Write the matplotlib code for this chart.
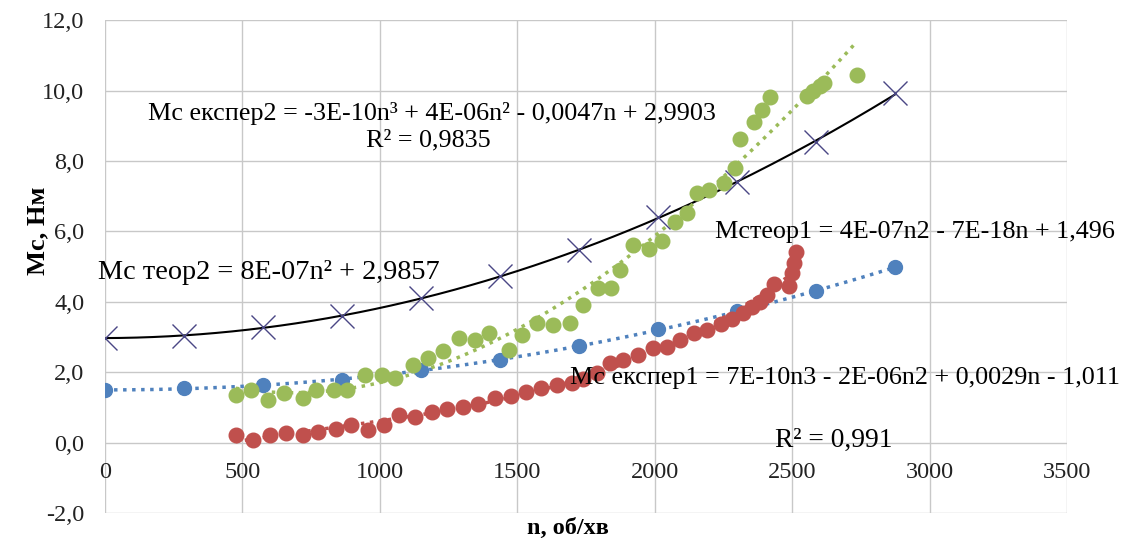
import numpy as np
import matplotlib.pyplot as plt

# теоретичні точки (однакові оберти для обох моделей)
n_teor = [0, 287.5, 575, 862.5, 1150, 1437.5, 1725, 2012.5, 2300, 2587.5, 2875]
m_teor1 = [1.49, 1.55, 1.63, 1.78, 2.06, 2.34, 2.74, 3.22, 3.74, 4.30, 4.98]
m_teor2 = [2.97, 3.03, 3.28, 3.59, 4.10, 4.73, 5.47, 6.41, 7.40, 8.53, 9.93]

# експеримент 1 (червоні)
n_exp1 = [476, 538, 601, 657, 720, 776, 839, 895, 958, 1014, 1070, 1126, 1189,
          1245, 1301, 1357, 1420, 1476, 1531, 1587, 1643, 1699, 1740, 1789, 1837,
          1886, 1940, 1995, 2043, 2092, 2141, 2190, 2240, 2280, 2320, 2355, 2383,
          2409, 2434, 2487, 2500, 2507, 2513]
m_exp1 = [0.21, 0.07, 0.21, 0.26, 0.21, 0.30, 0.40, 0.50, 0.35, 0.50, 0.78, 0.73, 0.88,
          0.95, 1.02, 1.11, 1.26, 1.33, 1.45, 1.54, 1.64, 1.70, 1.80, 1.97, 2.25,
          2.34, 2.49, 2.68, 2.72, 2.91, 3.10, 3.20, 3.38, 3.52, 3.68, 3.85, 3.99,
          4.20, 4.50, 4.45, 4.81, 5.11, 5.42]

# експеримент 2 (зелені)
n_exp2 = [476, 531, 594, 650, 720, 769, 832, 881, 944, 1007, 1056, 1119, 1175,
          1231, 1287, 1345, 1397, 1470, 1517, 1572, 1628, 1690, 1738, 1792, 1840,
          1875, 1921, 1978, 2027, 2075, 2117, 2154, 2196, 2251, 2293, 2311, 2360,
          2390, 2420, 2553, 2577, 2602, 2614, 2735]
m_exp2 = [1.35, 1.50, 1.21, 1.40, 1.26, 1.50, 1.50, 1.50, 1.92, 1.92, 1.83, 2.21, 2.40,
          2.59, 2.97, 2.92, 3.11, 2.64, 3.06, 3.40, 3.35, 3.40, 3.92, 4.38, 4.40,
          4.91, 5.60, 5.49, 5.73, 6.26, 6.53, 7.08, 7.18, 7.37, 7.81, 8.63, 9.11,
          9.45, 9.82, 9.84, 9.98, 10.13, 10.22, 10.43]

x_ticks = [0, 500, 1000, 1500, 2000, 2500, 3000, 3500]
y_ticks = [-2, 0, 2, 4, 6, 8, 10, 12]

c_blue = '#4F81BD'
c_red = '#C0504D'
c_green = '#9BBB59'
c_cross = '#4A4785'

plt.rcParams['font.family'] = ['Liberation Serif', 'DejaVu Serif']

fig = plt.figure(figsize=(11.28, 5.44), dpi=100)
ax = fig.add_axes([0.0931, 0.057, 0.8529, 0.906])


def trend(n, m, deg):
    n = np.asarray(n, float)
    p = np.polyfit(n, np.asarray(m, float), deg)
    xs = np.linspace(n.min(), n.max(), 200)
    return xs, np.polyval(p, xs)


# лінії трендів
xs, ys = trend(n_teor, m_teor2, 2)
ax.plot(xs, ys, color='black', lw=1.5, zorder=3)
xs, ys = trend(n_teor, m_teor1, 2)
ax.plot(xs, ys, color=c_blue, lw=2.5, ls=(0, (1, 1.6)), zorder=3)
xs, ys = trend(n_exp2, m_exp2, 3)
ax.plot(xs, ys, color=c_green, lw=2.5, ls=(0, (1, 1.6)), zorder=3)
xs, ys = trend(n_exp1, m_exp1, 3)
ax.plot(xs, ys, color=c_red, lw=2.5, ls=(0, (1, 1.6)), zorder=3)

# точки
ax.plot(n_teor, m_teor1, 'o', color=c_blue, ms=10, zorder=4)
ax.plot(n_exp1, m_exp1, 'o', color=c_red, ms=10.5, zorder=4)
ax.plot(n_exp2, m_exp2, 'o', color=c_green, ms=10.5, zorder=4)
ax.plot(n_teor, m_teor2, 'x', color=c_cross, ms=17, mew=1.0, zorder=5)

ax.set_xlim(0, 3500)
ax.set_ylim(-2, 12)
ax.set_xticks(x_ticks)
ax.set_yticks(y_ticks)
ax.set_yticklabels([f'{v:.1f}'.replace('.', ',') for v in y_ticks])
ax.grid(True, color='#C8C8C8', lw=1)
ax.set_axisbelow(True)

for s in ['top', 'right', 'left']:
    ax.spines[s].set_visible(False)
ax.spines['bottom'].set_position(('data', 0))
ax.spines['bottom'].set_visible(False)
ax.tick_params(axis='both', length=0, labelsize=17.5, colors='#222222')
ax.tick_params(axis='x', pad=14)
ax.tick_params(axis='y', pad=15)

ax.set_xlabel('n, об/хв', fontsize=17.5, fontweight='bold')
ax.xaxis.set_label_coords(0.481, -0.01)
ax.set_ylabel('Мс, Нм', fontsize=19, fontweight='bold')
ax.yaxis.set_label_coords(-0.058, 0.572)

fs = 18.8
ax.text(1190, 9.36, 'Мс експер2 = -3E-10n³ + 4E-06n² - 0,0047n + 2,9903',
        fontsize=fs, ha='center', va='center', zorder=6)
ax.text(1175, 8.59, 'R² = 0,9835', fontsize=fs, ha='center', va='center', zorder=6)
ax.text(-25, 4.84, 'Мс теор2 = 8E-07n² + 2,9857', fontsize=20.3,
        ha='left', va='center', zorder=6)
ax.text(2219, 5.98, 'Мстеор1 = 4E-07n2 - 7E-18n + 1,496', fontsize=fs,
        ha='left', va='center', zorder=6)
ax.text(1692, 1.83, 'Мс експер1 = 7E-10n3 - 2E-06n2 + 0,0029n - 1,011', fontsize=fs,
        ha='left', va='center', zorder=6)
ax.text(2438, 0.07, 'R² = 0,991', fontsize=fs + 1, ha='left', va='center', zorder=6)

fig.savefig('out.png', dpi=100)
